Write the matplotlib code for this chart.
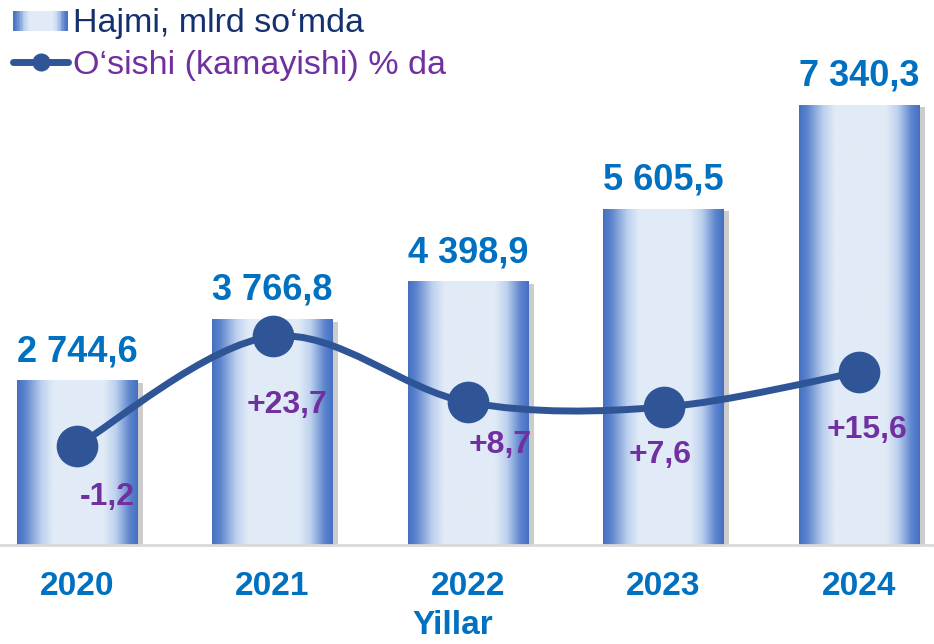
import numpy as np
import matplotlib
matplotlib.use("Agg")
import matplotlib.pyplot as plt
from matplotlib.path import Path
from matplotlib.patches import PathPatch, Rectangle
from matplotlib.lines import Line2D
from matplotlib.legend_handler import HandlerBase
from matplotlib.colors import LinearSegmentedColormap
import matplotlib.patheffects as pe

# ---------------- data ----------------
years = ["2020", "2021", "2022", "2023", "2024"]
volume = [2744.6, 3766.8, 4398.9, 5605.5, 7340.3]     # Hajmi, mlrd so'mda
growth = [-1.2, 23.7, 8.7, 7.6, 15.6]                  # O'sishi (kamayishi) % da
legend_labels = ["Hajmi, mlrd so\u2018mda", "O\u2018sishi (kamayishi) % da"]
xlabel_text = "Yillar"

# ---------------- style ----------------
plt.rcParams['font.family'] = ['Liberation Sans', 'DejaVu Sans']
BLUE_TXT = "#0070c0"
PURPLE = "#7030a0"
NAVY = "#14306e"
LINE = "#2f5597"

grad_cmap = LinearSegmentedColormap.from_list(
    "bar", [(0.0, "#4470c2"), (0.07, "#5f86ce"), (0.2, "#bcd0ee"),
            (0.3, "#e1ebf7"), (0.72, "#e1ebf7"), (0.82, "#bcd0ee"),
            (0.93, "#5f86ce"), (1.0, "#4470c2")])
grad = np.linspace(0, 1, 256).reshape(1, -1)

fig = plt.figure(figsize=(9.34, 6.44), dpi=100)
ax = fig.add_axes([0, 99 / 644, 1, 545 / 644])
x = np.arange(len(years))

bars = ax.bar(x, volume, width=0.614, facecolor="none", edgecolor="none", zorder=1)
for p in bars:
    p.set_path_effects([pe.SimplePatchShadow(offset=(4, -2), shadow_rgbFace="#808080", alpha=0.4)])
    x0, w, h = p.get_x(), p.get_width(), p.get_height()
    im = ax.imshow(grad, cmap=grad_cmap, extent=(x0, x0 + w, 0, h), aspect="auto",
                   interpolation="bilinear", zorder=2)
    im.set_clip_path(p)

for xi, v in zip(x, volume):
    txt = f"{v:,.1f}".replace(",", " ").replace(".", ",")
    ax.annotate(txt, (xi, v), xytext=(0, 11), textcoords="offset pixels",
                ha="center", va="bottom", fontsize=26, fontweight="bold", color=BLUE_TXT)

ax.set_xlim(-77 / 195.5, 4 + 75 / 195.5)
ax.set_ylim(0, 545 / 0.06)
for s in ax.spines.values():
    s.set_visible(False)
ax.axhline(0, color="#d9d9d9", lw=2, zorder=3, clip_on=False)
ax.set_yticks([])
ax.set_xticks(x, years)
ax.tick_params(axis="x", length=0, pad=19, labelsize=24, labelcolor=BLUE_TXT)
for t in ax.get_xticklabels():
    t.set_fontweight("bold")
ax.set_xlabel(xlabel_text, fontsize=24, fontweight="bold", color=BLUE_TXT)
ax.xaxis.set_label_coords(453 / 934, -65 / 545)

# ---------------- line on secondary axis ----------------
ax2 = ax.twinx()
ax2.set_ylim(-23.8, 100.3)
ax2.set_yticks([])
for s in ax2.spines.values():
    s.set_visible(False)

pts = np.column_stack([x, growth]).astype(float)
ext = np.vstack([pts[0], pts, pts[-1]])
verts = [tuple(pts[0])]
codes = [Path.MOVETO]
for i in range(len(pts) - 1):
    p0, p1, p2, p3 = ext[i], ext[i + 1], ext[i + 2], ext[i + 3]
    c1 = p1 + (p2 - p0) / 6.0
    c2 = p2 - (p3 - p1) / 6.0
    verts += [tuple(c1), tuple(c2), tuple(p2)]
    codes += [Path.CURVE4] * 3
ax2.add_patch(PathPatch(Path(verts, codes), fill=False, edgecolor=LINE, lw=5,
                        capstyle="round", zorder=4))
ax2.plot(x, growth, linestyle="none", marker="o", markersize=29, color=LINE, zorder=5)

offsets = [(30, -51), (15, -69), (32, -43), (-3, -48), (8, -58)]
for xi, g, off in zip(x, growth, offsets):
    ax2.annotate(f"{g:+.1f}".replace(".", ","), (xi, g), xytext=off,
                 textcoords="offset pixels", ha="center", va="center",
                 fontsize=23, fontweight="bold", color=PURPLE, zorder=6)

# ---------------- legend ----------------
class GradientHandler(HandlerBase):
    def create_artists(self, legend, orig_handle, xdescent, ydescent, width, height,
                       fontsize, trans):
        n = 40
        arts = []
        for k in range(n):
            c = grad_cmap((k + 0.5) / n)
            r = Rectangle((-xdescent + width * k / n, -ydescent + 0.05 * height),
                          width / n * 1.05, height * 0.85, facecolor=c, edgecolor="none",
                          transform=trans)
            arts.append(r)
        return arts

bar_handle = Rectangle((0, 0), 1, 1)
line_handle = Line2D([], [], color=LINE, lw=5, marker="o", markersize=12,
                     solid_capstyle="round")
leg = fig.legend([bar_handle, line_handle], legend_labels,
                 handler_map={Rectangle: GradientHandler()},
                 loc="upper left", bbox_to_anchor=(10 / 934, 1 - 5 / 644),
                 frameon=False, fontsize=24.5, handlelength=1.6, handletextpad=0.15,
                 labelspacing=0.3, borderpad=0.1, borderaxespad=0)
leg.get_texts()[0].set_color(NAVY)
leg.get_texts()[1].set_color(PURPLE)

fig.savefig("out.png", dpi=100)
